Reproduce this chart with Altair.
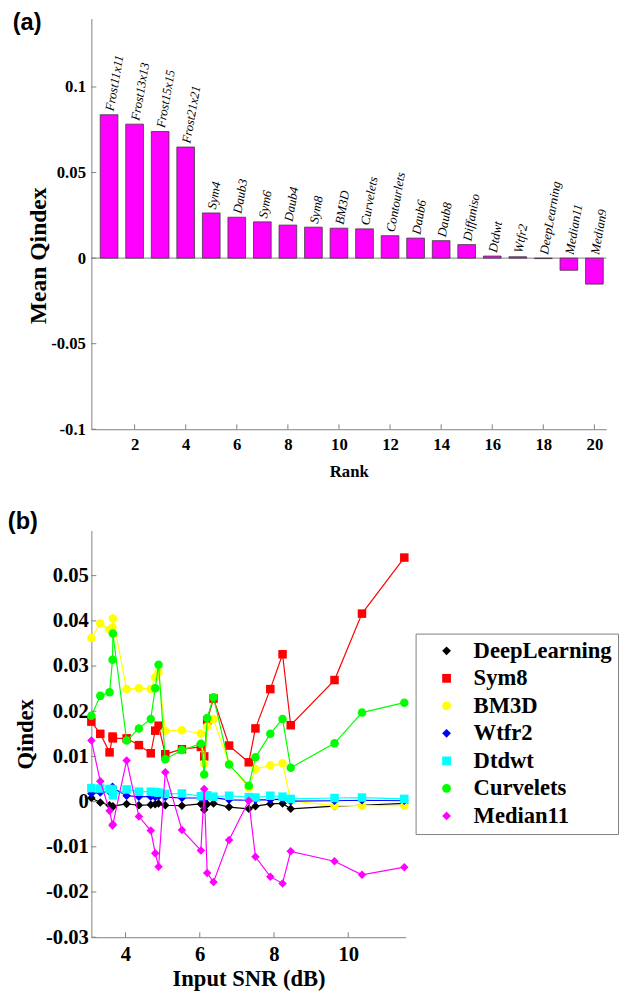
import altair as alt
import pandas as pd

# ---------------- panel (a) data ----------------
methods = ["Frost11x11", "Frost13x13", "Frost15x15", "Frost21x21", "Sym4", "Daub3",
           "Sym6", "Daub4", "Sym8", "BM3D", "Curvelets", "Contourlets", "Daub6",
           "Daub8", "Diffaniso", "Dtdwt", "Wtfr2", "DeepLearning", "Median11", "Median9"]
ranks = list(range(1, 21))
mean_qindex = [0.0838, 0.0783, 0.0740, 0.0649, 0.0264, 0.0239, 0.0212, 0.0193, 0.0181,
               0.0175, 0.0171, 0.0131, 0.0117, 0.0102, 0.0079, 0.0012, 0.0008, -0.0003,
               -0.0071, -0.0152]
rank_ticks = [2, 4, 6, 8, 10, 12, 14, 16, 18, 20]
mean_ticks = [-0.1, -0.05, 0, 0.05, 0.1]

# ---------------- panel (b) data ----------------
snr_db = [3.08, 3.32, 3.57, 3.65, 3.66, 4.03, 4.36, 4.68, 4.80, 4.89, 5.07, 5.52, 6.03,
          6.12, 6.20, 6.37, 6.79, 7.32, 7.50, 7.90, 8.23, 8.45, 9.63, 10.37, 11.51]
deeplearning = [0.0008, -0.0002, -0.0008, -0.0012, -0.0010, -0.0005, -0.0008, -0.0007,
                -0.0006, -0.0004, -0.0008, -0.0009, -0.0005, -0.0018, -0.0006, -0.0004,
                -0.0012, -0.0016, -0.0010, -0.0005, -0.0004, -0.0016, -0.0010, -0.0008,
                -0.0004]
sym8 = [0.0177, 0.0150, 0.0109, 0.0144, 0.0140, 0.0140, 0.0125, 0.0107, 0.0157, 0.0168,
        0.0105, 0.0116, 0.0121, 0.0100, 0.0180, 0.0228, 0.0124, 0.0087, 0.0162, 0.0249,
        0.0326, 0.0169, 0.0269, 0.0416, 0.0540]
bm3d = [0.0362, 0.0394, 0.0381, 0.0385, 0.0405, 0.0249, 0.0251, 0.0249, 0.0275, 0.0286,
        0.0157, 0.0158, 0.0151, 0.0084, 0.0166, 0.0183, 0.0083, 0.0030, 0.0072, 0.0080,
        0.0085, 0.0002, -0.0009, -0.0009, -0.0009]
wtfr2 = [0.0018, 0.0020, 0.0022, 0.0033, 0.0030, 0.0013, 0.0011, 0.0011, 0.0010, 0.0012,
         0.0010, 0.0008, 0.0008, 0.0006, 0.0010, 0.0009, 0.0004, 0.0003, 0.0004, 0.0004,
         0.0006, 0.0001, 0.0002, 0.0003, 0.0002]
dtdwt = [0.0030, 0.0029, 0.0028, 0.0027, 0.0014, 0.0027, 0.0022, 0.0022, 0.0021, 0.0020,
         0.0017, 0.0018, 0.0012, 0.0013, 0.0014, 0.0011, 0.0013, 0.0010, 0.0009, 0.0013,
         0.0011, 0.0006, 0.0008, 0.0009, 0.0006]
curvelets = [0.0190, 0.0234, 0.0242, 0.0314, 0.0372, 0.0135, 0.0162, 0.0183, 0.0251,
             0.0303, 0.0094, 0.0114, 0.0128, 0.0060, 0.0185, 0.0231, 0.0082, 0.0035,
             0.0098, 0.0150, 0.0183, 0.0075, 0.0129, 0.0197, 0.0219]
median11 = [0.0135, 0.0045, -0.0020, -0.0053, -0.0050, 0.0091, -0.0033, -0.0064, -0.0114,
            -0.0144, 0.0065, -0.0063, -0.0108, 0.0028, -0.0158, -0.0178, -0.0085, 0.0002,
            -0.0122, -0.0166, -0.0181, -0.0110, -0.0132, -0.0162, -0.0145]
series_names = ["DeepLearning", "Sym8", "BM3D", "Wtfr2", "Dtdwt", "Curvelets", "Median11"]
series_values = [deeplearning, sym8, bm3d, wtfr2, dtdwt, curvelets, median11]
series_colors = ["#000000", "#ff0000", "#ffff00", "#0000ff", "#00ffff", "#00ff00", "#ff00ff"]
series_shapes = ["diamond", "square", "circle", "diamond", "square", "circle", "diamond"]
snr_ticks = [4, 6, 8, 10]
q_ticks = [-0.03, -0.02, -0.01, 0, 0.01, 0.02, 0.03, 0.04, 0.05]

GRAY = "#7f7f7f"
SERIF = "Liberation Serif"
LABEL_EXPR = "datum.value < 0 ? '-' + format(-datum.value, '~g') : format(datum.value, '~g')"

# ---------------- panel (a) ----------------
WA, HA = 524, 418
df_a = pd.DataFrame({"rank": ranks, "method": methods, "value": mean_qindex})
df_a["lab"] = df_a["value"].clip(lower=0)

xa_scale = alt.Scale(domain=[0.5, 20.27], nice=False, zero=False)
ya_scale = alt.Scale(domain=[-0.1, 0.14], nice=False)

xa = alt.X("rank:Q", scale=xa_scale,
           axis=alt.Axis(values=rank_ticks, format="d", tickSize=0, grid=False,
                         domainColor=GRAY, labelFont=SERIF, labelFontWeight="bold",
                         labelFontSize=17, labelColor="black", labelPadding=8,
                         title="Rank", titleFont=SERIF, titleFontSize=17,
                         titleFontWeight="bold", titleColor="black", titlePadding=11))
ya = alt.Y("value:Q", scale=ya_scale,
           axis=alt.Axis(values=mean_ticks, labelExpr=LABEL_EXPR, tickSize=0, grid=False,
                         domainColor=GRAY, labelFont=SERIF, labelFontWeight="bold",
                         labelFontSize=17, labelColor="black", labelPadding=6,
                         title="Mean Qindex", titleFont=SERIF, titleFontSize=24,
                         titleFontWeight="bold", titleColor="black", titleX=-54,
                         titleY=241, titleAngle=270, titleBaseline="middle",
                         titleAlign="center"))

zero_a = alt.Chart(pd.DataFrame({"z": [0]})).mark_rule(color=GRAY, strokeWidth=1).encode(
    y=alt.Y("z:Q", scale=ya_scale))
bars = alt.Chart(df_a).mark_bar(size=18, color="#ff00ff", stroke="#3a3a3a",
                                strokeWidth=0.8).encode(x=xa, y=ya, y2=alt.datum(0))
labels_a = alt.Chart(df_a).mark_text(angle=280, align="left", baseline="middle", dx=4,
                                     font=SERIF, fontStyle="italic", fontSize=13,
                                     color="black", clip=True).encode(
    x=alt.X("rank:Q", scale=xa_scale), y=alt.Y("lab:Q", scale=ya_scale), text="method:N")
xt_a = alt.Chart(pd.DataFrame({"t": rank_ticks})).mark_rule(color=GRAY).encode(
    x=alt.X("t:Q", scale=xa_scale), y=alt.value(HA), y2=alt.value(HA - 5))
yt_a = alt.Chart(pd.DataFrame({"t": mean_ticks})).mark_rule(color=GRAY).encode(
    y=alt.Y("t:Q", scale=ya_scale), x=alt.value(0), x2=alt.value(5))

panel_a = alt.layer(zero_a, bars, labels_a, xt_a, yt_a).properties(
    width=WA, height=HA,
    title=alt.TitleParams("(a)", anchor="start", frame="group", orient="top",
                          font="Liberation Sans", fontSize=24, fontWeight="bold",
                          color="black", baseline="top", offset=-17, dx=-80))

# ---------------- panel (b) ----------------
WB, HB = 320, 414
rows = []
for name, vals in zip(series_names, series_values):
    for s, v in zip(snr_db, vals):
        rows.append({"series": name, "snr": s, "q": v})
df_b = pd.DataFrame(rows)

xb_scale = alt.Scale(domain=[3.08, 11.55], nice=False, zero=False)
yb_scale = alt.Scale(domain=[-0.03, 0.06], nice=False)
xb = alt.X("snr:Q", scale=xb_scale,
           axis=alt.Axis(values=snr_ticks, format="d", tickSize=0, grid=False,
                         domainColor=GRAY, labelFont=SERIF, labelFontWeight="bold",
                         labelFontSize=21, labelColor="black", labelPadding=7,
                         title="Input SNR (dB)", titleFont=SERIF, titleFontSize=23,
                         titleFontWeight="bold", titleColor="black", titlePadding=3))
yb = alt.Y("q:Q", scale=yb_scale,
           axis=alt.Axis(values=q_ticks, labelExpr=LABEL_EXPR, tickSize=0, grid=False,
                         domainColor=GRAY, labelFont=SERIF, labelFontWeight="bold",
                         labelFontSize=21, labelColor="black", labelPadding=3,
                         title="Qindex", titleFont=SERIF, titleFontSize=23,
                         titleFontWeight="bold", titleColor="black", titleX=-67,
                         titleAngle=270, titleBaseline="middle", titleAlign="center"))

legend = alt.Legend(title=None, orient="none", legendX=330, legendY=105, padding=6,
                    symbolOffset=14, labelOffset=16, labelFont=SERIF, labelFontSize=23,
                    labelFontWeight="bold", labelColor="black", rowPadding=4,
                    strokeColor=GRAY, fillColor="white", symbolSize=80)
color_scale = alt.Scale(domain=series_names, range=series_colors)
shape_scale = alt.Scale(domain=series_names, range=series_shapes)

base_b = alt.Chart(df_b)
layers_b = []
for name, col in zip(series_names, series_colors):
    sub = base_b.transform_filter(alt.datum.series == name)
    layers_b.append(sub.mark_line(strokeWidth=1.2, color=col).encode(x=xb, y=yb))
    layers_b.append(sub.mark_point(filled=True, size=75, opacity=1).encode(
        x=xb, y=yb,
        color=alt.Color("series:N", scale=color_scale, legend=legend),
        shape=alt.Shape("series:N", scale=shape_scale, legend=legend)))

xt_b = alt.Chart(pd.DataFrame({"t": snr_ticks})).mark_rule(color=GRAY).encode(
    x=alt.X("t:Q", scale=xb_scale), y=alt.value(HB), y2=alt.value(HB - 5))
yt_b = alt.Chart(pd.DataFrame({"t": q_ticks})).mark_rule(color=GRAY).encode(
    y=alt.Y("t:Q", scale=yb_scale), x=alt.value(0), x2=alt.value(5))

panel_b = alt.layer(*layers_b, xt_b, yt_b).properties(
    width=WB, height=HB,
    title=alt.TitleParams("(b)", anchor="start", frame="group", orient="top",
                          font="Liberation Sans", fontSize=24, fontWeight="bold",
                          color="black", baseline="top", offset=-4, dx=-85))

chart = alt.vconcat(panel_a, panel_b, spacing=32).resolve_scale(
    color="independent", shape="independent"
).resolve_legend(
    color="independent", shape="independent"
).properties(
    padding={"left": 8, "top": 3, "right": 0, "bottom": 0},
    background="white",
).configure_view(stroke=None)

chart.save("out.html", embed_options={"renderer": "svg", "actions": False})
